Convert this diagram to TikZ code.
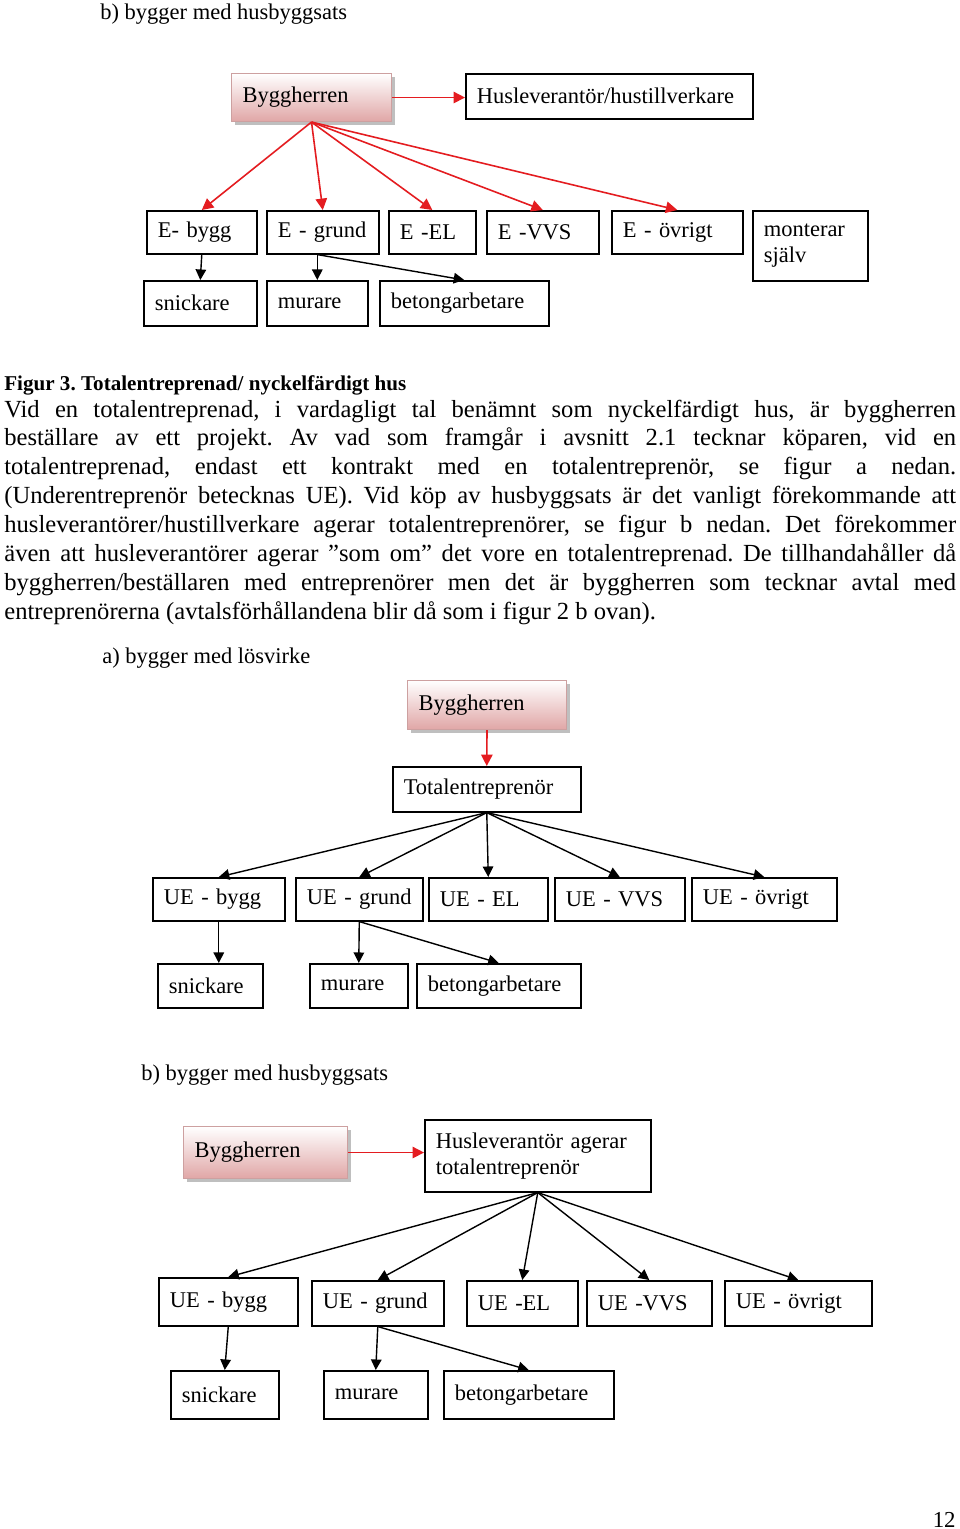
\documentclass[tikz,border=0pt]{standalone}
\usepackage{fontspec}
\setmainfont{Liberation Serif}
\newfontfamily\boxfont[WordSpace=0.6]{Liberation Serif}
\usetikzlibrary{arrows.meta,shadows}
\definecolor{OrgRed}{RGB}{228,28,32}
\definecolor{HerrPink}{RGB}{224,166,166}
\definecolor{HerrEdge}{RGB}{205,160,160}
\tikzset{
  box/.style={draw=black,line width=0.9pt,fill=white,anchor=north west,inner xsep=0.22cm,
    inner ysep=0pt,align=left,font=\boxfont\fontsize{12.8}{15}\selectfont},
  bw/.style={minimum width=#1cm,text width={#1cm-0.44cm}},
  bh/.style={minimum height=#1cm},
  herr/.style={box,draw=HerrEdge,line width=0.6pt,top color=white,bottom color=HerrPink,
    drop shadow={shadow xshift=0.07cm,shadow yshift=-0.07cm,fill=black!50,opacity=0.5}},
  redarrow/.style={draw=OrgRed,line width=0.9pt,-{Triangle[length=6.5pt,width=6.5pt]}},
  blackarrow/.style={draw=black,line width=0.8pt,-{Triangle[length=6pt,width=6pt]}},
  rubrik/.style={anchor=base west,inner sep=0pt,font=\fontsize{12.8}{15}\selectfont},
}

\begin{document}
\begin{tikzpicture}[x=0.02cm,y=-0.02cm]
  \useasboundingbox[fill=white] (0,0) rectangle (960,1529);

  % b) bygger med husbyggsats, ovan
  \node[rubrik] (titel1) at (100,19) {b) bygger med husbyggsats};
  \node[herr,bw=3.2,bh=0.96] (herr1) at (231,73) {Byggherren};
  \node[box,bw=5.74,bh=0.9] (husl1) at (465,73) {Husleverantör/hustillverkare};
  \node[box,bw=2.2,bh=0.86] (ebygg1) at (146,210) {E- bygg};
  \node[box,bw=2.24,bh=0.86] (egrund1) at (266,210) {E - grund};
  \node[box,bw=1.74,bh=0.86] (eel1) at (388,210) {E -EL};
  \node[box,bw=2.24,bh=0.86] (evvs1) at (486,210) {E -VVS};
  \node[box,bw=2.62,bh=0.86] (eovr1) at (611,210) {E - övrigt};
  \node[box,bw=2.3,bh=1.4] (sjalv1) at (752,210) {monterar\\själv};
  \node[box,bw=2.26,bh=0.9] (snick1) at (143,280) {snickare};
  \node[box,bw=2.02,bh=0.9] (murare1) at (266,280) {murare};
  \node[box,bw=3.38,bh=0.9] (betong1) at (379,280) {betongarbetare};
  \draw[redarrow] (herr1.east) -- (herr1.east -| husl1.west);
  \foreach \e in {ebygg1,egrund1,eel1,evvs1,eovr1}
    \draw[redarrow] (herr1.south) -- (\e.north);
  \draw[blackarrow] (ebygg1.south) -- (snick1.north);
  \draw[blackarrow] (murare1.north |- egrund1.south) -- (murare1.north);
  \draw[blackarrow] (murare1.north |- egrund1.south) -- (betong1.north);

  % text
  \node[anchor=base west,inner sep=0pt,font=\bfseries\fontsize{12}{14}\selectfont] (figtext)
    at (4,390) {\frenchspacing Figur 3. Totalentreprenad/ nyckelfärdigt hus};
  \node[anchor=base west,inner sep=0pt,text width=19.04cm,align=justify,
    font=\frenchspacing\fontsize{14}{16.44}\selectfont] (brodtext) at (4,417)
    {Vid en totalentreprenad, i vardagligt tal benämnt som nyckelfärdigt hus, är byggherren\linebreak
     beställare av ett projekt. Av vad som framgår i avsnitt 2.1 tecknar köparen, vid en\linebreak
     totalentreprenad, endast ett kontrakt med en totalentreprenör, se figur a nedan.\linebreak
     (Underentreprenör betecknas UE). Vid köp av husbyggsats är det vanligt förekommande att\linebreak
     husleverantörer/hustillverkare agerar totalentreprenörer, se figur b nedan. Det förekommer\linebreak
     även att husleverantörer agerar ”som om” det vore en totalentreprenad. De tillhandahåller då\linebreak
     byggherren/beställaren med entreprenörer men det är byggherren som tecknar avtal med\linebreak
     entreprenörerna (avtalsförhållandena blir då som i figur 2 b ovan).};

  % a) bygger med lösvirke
  \node[rubrik] (titel2) at (102,663) {a) bygger med lösvirke};
  \node[herr,bw=3.18,bh=0.98] (herr2) at (407,680) {Byggherren};
  \node[box,bw=3.76,bh=0.9] (total2) at (392,766) {Totalentreprenör};
  \node[box,bw=2.64,bh=0.86] (uebygg2) at (152,877) {UE - bygg};
  \node[box,bw=2.54,bh=0.86] (uegrund2) at (295,877) {UE - grund};
  \node[box,bw=2.38,bh=0.86] (ueel2) at (428,877) {UE - EL};
  \node[box,bw=2.6,bh=0.86] (uevvs2) at (554,877) {UE - VVS};
  \node[box,bw=2.9,bh=0.86] (ueovr2) at (691,877) {UE - övrigt};
  \node[box,bw=2.1,bh=0.88] (snick2) at (157,963) {snickare};
  \node[box,bw=1.96,bh=0.88] (murare2) at (309,963) {murare};
  \node[box,bw=3.28,bh=0.88] (betong2) at (416,963) {betongarbetare};
  \draw[redarrow] (herr2.south) -- (total2.north);
  \foreach \e in {uebygg2,uegrund2,ueel2,uevvs2,ueovr2}
    \draw[blackarrow] (total2.south) -- (\e.north);
  \draw[blackarrow] (uebygg2.south) -- (uebygg2.south |- snick2.north);
  \draw[blackarrow] (uegrund2.south) -- (murare2.north);
  \draw[blackarrow] (uegrund2.south) -- (betong2.north);

  % b) bygger med husbyggsats, nedan
  \node[rubrik] (titel3) at (141,1080) {b) bygger med husbyggsats};
  \node[herr,bw=3.28,bh=1.04] (herr3) at (183,1126) {Byggherren};
  \node[box,bw=4.52,bh=1.44] (husl3) at (424,1119) {Husleverantör agerar\\totalentreprenör};
  \node[box,bw=2.78,bh=0.96] (uebygg3) at (158,1277) {UE - bygg};
  \node[box,bw=2.64,bh=0.9] (uegrund3) at (311,1280) {UE - grund};
  \node[box,bw=2.22,bh=0.9] (ueel3) at (466,1280) {UE -EL};
  \node[box,bw=2.5,bh=0.9] (uevvs3) at (586,1280) {UE -VVS};
  \node[box,bw=2.94,bh=0.9] (ueovr3) at (724,1280) {UE - övrigt};
  \node[box,bw=2.16,bh=0.96] (snick3) at (170,1370) {snickare};
  \node[box,bw=2.08,bh=0.96] (murare3) at (323,1370) {murare};
  \node[box,bw=3.4,bh=0.96] (betong3) at (443,1370) {betongarbetare};
  \draw[redarrow] (herr3.east) -- (herr3.east -| husl3.west);
  \foreach \e in {uebygg3,uegrund3,ueel3,uevvs3,ueovr3}
    \draw[blackarrow] (husl3.south) -- (\e.north);
  \draw[blackarrow] (uebygg3.south) -- (snick3.north);
  \draw[blackarrow] (uegrund3.south) -- (murare3.north);
  \draw[blackarrow] (uegrund3.south) -- (betong3.north);

  \node[anchor=base east,inner sep=0pt,font=\fontsize{13}{15}\selectfont] (sidnr) at (956,1527) {12};
\end{tikzpicture}
\end{document}
